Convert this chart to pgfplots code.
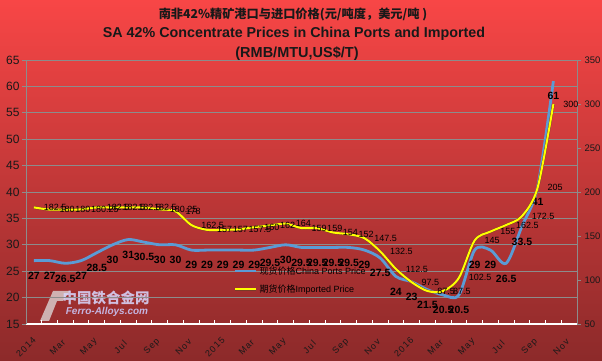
\documentclass[border=0pt]{standalone}
\usepackage{pgfplots}
\pgfplotsset{compat=1.18}
\usepackage{pgfplotstable}
\usepackage{fontspec}
\setmainfont{Liberation Sans}
\newfontfamily\cjk{Noto Sans CJK SC}
\usetikzlibrary{shadings}
\definecolor{bgtop}{RGB}{248,70,70}
\definecolor{bgmid}{RGB}{214,58,58}
\definecolor{bgbot}{RGB}{140,42,42}
\definecolor{gridc}{RGB}{140,140,140}
\definecolor{blueln}{RGB}{91,155,213}
\definecolor{yelln}{RGB}{255,255,0}
\definecolor{yedge}{RGB}{120,60,40}

\pgfplotstableread{
x y lab
0.5 27 27
1.5 27 27
2.5 26.5 26.5
3.5 27 27
4.5 28.5 28.5
5.5 30 30
6.5 31 31
7.5 30.5 30.5
8.5 30 30
9.5 30 30
10.5 29 29
11.5 29 29
12.5 29 29
13.5 29 29
14.5 29 29
15.5 29.5 29.5
16.5 30 30
17.5 29.5 29.5
18.5 29.5 29.5
19.5 29.5 29.5
20.5 29.5 29.5
21.5 29 29
22.5 27.5 27.5
23.5 24 24
24.5 23 23
25.5 21.5 21.5
26.5 20.5 20.5
27.5 20.5 20.5
28.5 29 29
29.5 29 29
30.5 26.5 26.5
31.5 33.5 33.5
32.5 41 41
33.5 61 61
}\bluedata

\pgfplotstableread{
x y lab
0.5 182.5 182.5
1.5 180 180
2.5 180 180
3.5 180.25 180.25
4.5 182.5 182.5
5.5 182.5 182.5
6.5 182.5 182.5
7.5 182.5 182.5
8.5 180.25 180.25
9.5 178 178
10.5 162.5 162.5
11.5 157 157
12.5 157 157
13.5 157.5 157.5
14.5 160 160
15.5 162 162
16.5 164 164
17.5 159 159
18.5 159 159
19.5 154 154
20.5 152 152
21.5 147.5 147.5
22.5 132.5 132.5
23.5 112.5 112.5
24.5 97.5 97.5
25.5 87.5 87.5
26.5 87.5 87.5
27.5 102.5 102.5
28.5 145 145
29.5 155 155
30.5 162.5 162.5
31.5 172.5 172.5
32.5 205 205
33.5 300 300
}\yellowdata

\begin{document}
\begin{tikzpicture}
\useasboundingbox (0,0) rectangle (602pt,361pt);
\shade[top color=bgtop, middle color=bgmid, bottom color=bgbot] (0,0) rectangle (602pt,361pt);

% watermark
\fill[white!75!gray, opacity=0.75] (40pt,40pt) -- (53pt,70pt) -- (70pt,70pt) -- (63pt,60pt) -- (57pt,60pt) -- (49pt,40pt) -- cycle;
\node[font=\cjk\bfseries\fontsize{14.5}{14.5}\selectfont, text=white!85!blue, opacity=0.85] at (106pt,63pt) {中国铁合金网};
\node[font=\bfseries\itshape\fontsize{10}{10}\selectfont, text=white!80!blue, opacity=0.85] at (107pt,49pt) {Ferro-Alloys.com};

\begin{axis}[
  at={(26pt,37pt)}, anchor=south west,
  width=551pt, height=264pt, scale only axis,
  xmin=0, xmax=35, ymin=15, ymax=65,
  axis x line*=bottom, axis y line*=left,
  x axis line style={white, line width=1.2pt},
  y axis line style={gridc, line width=0.8pt},
  xtick={0,...,35},
  xticklabels={2014,,Mar,,May,,Jul,,Sep,,Nov,,2015,,Mar,,May,,Jul,,Sep,,Nov,,2016,,Mar,,May,,Jul,,Sep,,Nov,},
  xtick style={white, line width=1pt},
  xtick align=inside,
  major tick length=4pt,
  ytick={15,20,...,65},
  ytick style={gridc, line width=0.8pt},
  ytick align=outside,
  ymajorgrids, grid style={gridc, line width=0.8pt},
  /pgf/number format/assume math mode=true,
  yticklabel style={font=\fontsize{12}{12}\selectfont, text=black!90, xshift=1pt},
  xticklabel style={yshift=-23pt, rotate=45, anchor=center, font=\fontsize{9}{9}\selectfont\addfontfeature{LetterSpace=12}, text=black!90},
  clip=false,
]
\addplot[blueln, line width=2.8pt, smooth, tension=0.5,
  nodes near coords, point meta=explicit symbolic,
  every node near coord/.append style={anchor=north, yshift=-10pt, inner sep=0pt, font=\bfseries\fontsize{10.5}{10.5}\selectfont, text=black}]
  table[x=x, y=y, meta=lab] {\bluedata};
\end{axis}

\begin{axis}[
  at={(26pt,37pt)}, anchor=south west,
  width=551pt, height=264pt, scale only axis,
  xmin=0, xmax=35, ymin=50, ymax=350,
  axis x line=none, axis y line*=right,
  y axis line style={gridc, line width=0.8pt},
  ytick={50,100,...,350},
  ytick style={gridc, line width=0.8pt},
  ytick align=outside,
  major tick length=4pt,
  /pgf/number format/assume math mode=true,
  yticklabel style={font=\fontsize{9.5}{9.5}\selectfont, text=black!90},
  clip=false,
  legend style={at={(0.377,0.226)}, anchor=north west, draw=none, fill=none,
    font=\fontsize{9}{9}\selectfont, text=black, row sep=5pt, inner sep=0pt},
  legend cell align=left,
  legend image code/.code={\draw[#1] (0pt,0pt) -- (21pt,0pt);},
]
\addlegendimage{blueln, line width=2.8pt}
\addlegendentry{\textcolor{black}{{\cjk 现货价格}China Ports Price}}
\addplot[yelln, line width=2pt, smooth, tension=0.5,
  preaction={draw=yedge, line width=2.7pt},
  nodes near coords, point meta=explicit symbolic,
  every node near coord/.append style={anchor=west, xshift=9pt, inner sep=0pt, font=\fontsize{9}{9}\selectfont, text=black}]
  table[x=x, y=y, meta=lab] {\yellowdata};
\addlegendentry{\textcolor{black}{{\cjk 期货价格}Imported Price}}
\end{axis}

\node[font=\cjk\bfseries\fontsize{12.2}{12.2}\selectfont, text=black!90] at (293pt,347pt) {南非42\%精矿港口与进口价格(元/吨度，美元/吨 )};
\node[font=\bfseries\fontsize{14.3}{14.3}\selectfont, text=black!90] at (294pt,327pt) {SA 42\% Concentrate Prices in China Ports and Imported};
\node[font=\bfseries\fontsize{14.5}{14.5}\selectfont, text=black!90] at (297pt,307pt) {(RMB/MTU,US\$/T)};
\end{tikzpicture}
\end{document}
